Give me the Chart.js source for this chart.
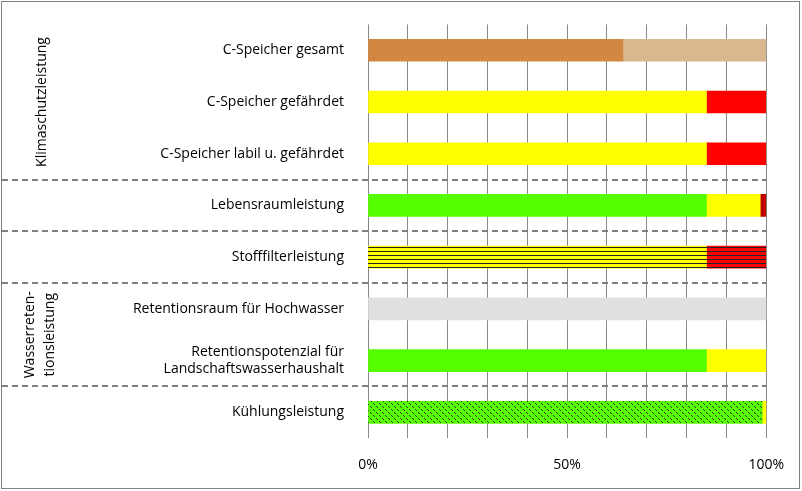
<!DOCTYPE html>
<html lang="de">
<head>
<meta charset="UTF-8">
<script src="https://cdn.jsdelivr.net/npm/chart.js"></script>
<style>
  body { margin: 0; background: #fff; }
  #wrap { width: 802px; height: 491px; }
</style>
</head>
<body>
<div id="wrap"><canvas id="chart" width="802" height="491"></canvas></div>
<script>
const categories = [
  'C-Speicher gesamt',
  'C-Speicher gefährdet',
  'C-Speicher labil u. gefährdet',
  'Lebensraumleistung',
  'Stofffilterleistung',
  'Retentionsraum für Hochwasser',
  ['Retentionspotenzial für', 'Landschaftswasserhaushalt'],
  'Kühlungsleistung'
];
const seg1 = [64, 85, 85, 85, 85, 100, 85, 99];
const seg2 = [36, 15, 15, 13.5, 15, 0, 15, 1];
const seg3 = [0, 0, 0, 1.5, 0, 0, 0, 0];
const tickLabels = ['0%', '50%', '100%'];
const groups = [
  { lines: ['Klimaschutzleistung'], from: 0, to: 2 },
  { lines: ['Wasserreten-', 'tionsleistung'], from: 5, to: 6 }
];
const separators = [2.5, 3.5, 4.5, 6.5];

function hatch(bg) {
  const c = document.createElement('canvas');
  c.width = 8; c.height = 4;
  const g = c.getContext('2d');
  g.fillStyle = bg; g.fillRect(0, 0, 8, 4);
  g.fillStyle = '#222'; g.fillRect(0, 3, 8, 1);
  return g.createPattern(c, 'repeat');
}
function dots(bg) {
  const c = document.createElement('canvas');
  c.width = 6; c.height = 6;
  const g = c.getContext('2d');
  g.fillStyle = bg; g.fillRect(0, 0, 6, 6);
  g.fillStyle = '#333';
  g.fillRect(1, 1, 1, 1); g.fillRect(2, 2, 1, 1);
  g.fillRect(4, 4, 1, 1); g.fillRect(5, 5, 1, 1);
  return g.createPattern(c, 'repeat');
}
const Y = '#FFFF00', R = '#FF0000', G = '#55FF00';
const col1 = ['#D38842', Y, Y, G, hatch(Y), '#E0E0E0', G, dots(G)];
const col2 = ['#D9B88F', R, R, Y, hatch(R), '#E0E0E0', Y, Y];
const col3 = ['#fff', '#fff', '#fff', '#C00000', '#fff', '#fff', '#fff', '#fff'];

const extras = {
  id: 'extras',
  afterDraw(chart) {
    const ctx = chart.ctx, y = chart.scales.y, a = chart.chartArea;
    ctx.save();
    ctx.strokeStyle = '#808080'; ctx.lineWidth = 1;
    ctx.strokeRect(1.5, 1.5, 798, 487);
    ctx.setLineDash([6, 4]); ctx.lineWidth = 2;
    separators.forEach(s => {
      const p = Math.round((y.getPixelForValue(Math.floor(s)) + y.getPixelForValue(Math.ceil(s))) / 2);
      ctx.beginPath(); ctx.moveTo(2, p); ctx.lineTo(a.right, p); ctx.stroke();
    });
    ctx.setLineDash([]);
    ctx.fillStyle = '#000'; ctx.font = '14px "Open Sans", sans-serif';
    ctx.textAlign = 'center'; ctx.textBaseline = 'middle';
    groups.forEach((gr, i) => {
      const cy = (y.getPixelForValue(gr.from) + y.getPixelForValue(gr.to)) / 2;
      ctx.save();
      ctx.translate(i === 0 ? 42 : 40, cy);
      ctx.rotate(-Math.PI / 2);
      gr.lines.forEach((t, k) => ctx.fillText(t, 0, (k - (gr.lines.length - 1) / 2) * 20));
      ctx.restore();
    });
    ctx.restore();
  }
};

new Chart(document.getElementById('chart'), {
  type: 'bar',
  data: {
    labels: categories,
    datasets: [
      { data: seg1, backgroundColor: col1 },
      { data: seg2, backgroundColor: col2 },
      { data: seg3, backgroundColor: col3 }
    ]
  },
  options: {
    indexAxis: 'y',
    responsive: false,
    animation: false,
    events: [],
    layout: { padding: { left: 0, top: 0, right: 30, bottom: 0 } },
    datasets: { bar: { barThickness: 22, borderWidth: 0 } },
    plugins: { legend: { display: false }, tooltip: { enabled: false } },
    scales: {
      x: {
        stacked: true, min: 0, max: 100,
        grid: { color: '#888', drawTicks: false },
        border: { display: false },
        ticks: {
          stepSize: 10, autoSkip: false, padding: 18, maxRotation: 0,
          color: '#000', font: { size: 14, family: '"Open Sans", sans-serif' },
          callback: v => v === 0 ? tickLabels[0] : v === 50 ? tickLabels[1] : v === 100 ? tickLabels[2] : ''
        }
      },
      y: {
        stacked: true,
        grid: { display: false },
        border: { display: false },
        afterFit: s => { s.width = 368; },
        ticks: { padding: 16, color: '#000', font: { size: 14, family: '"Open Sans", sans-serif' } }
      }
    }
  },
  plugins: [extras]
});
</script>
</body>
</html>
